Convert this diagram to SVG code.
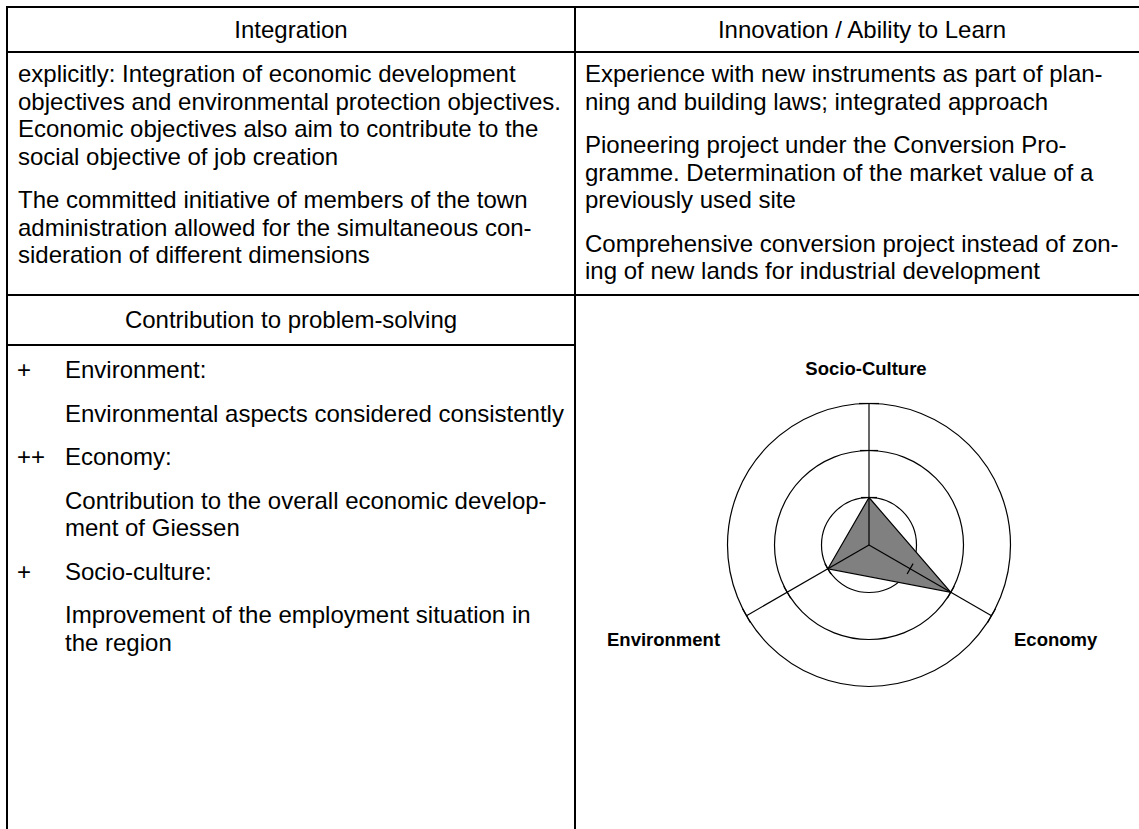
<svg xmlns="http://www.w3.org/2000/svg" width="1139" height="829" viewBox="0 0 1139 829">
<style>
.t{font-family:"Liberation Sans",Arial,sans-serif;font-size:24px;fill:#000}
.c{text-anchor:middle}
.b{font-family:"Liberation Sans",Arial,sans-serif;font-size:18.5px;font-weight:bold;fill:#000}
.grid{stroke:#000;stroke-width:2;fill:none}
.ring{stroke:#000;stroke-width:1.2;fill:none}
.ax{stroke:#000;stroke-width:1.2}
</style>
<rect width="1139" height="829" fill="#fff"/>
<g id="table" class="grid">
<line x1="6" y1="7" x2="1139" y2="7"/>
<line x1="6" y1="52" x2="1139" y2="52"/>
<line x1="6" y1="295" x2="1139" y2="295"/>
<line x1="6" y1="345" x2="575" y2="345"/>
<line x1="7" y1="6" x2="7" y2="829"/>
<line x1="575" y1="6" x2="575" y2="829"/>
</g>
<g id="integration">
<text class="t c" x="291" y="37.5">Integration</text>
<text class="t" x="18">
<tspan x="18" y="82">explicitly: Integration of economic development</tspan>
<tspan x="18" y="109.5">objectives and environmental protection objectives.</tspan>
<tspan x="18" y="137">Economic objectives also aim to contribute to the</tspan>
<tspan x="18" y="164.5">social objective of job creation</tspan>
<tspan x="18" y="208">The committed initiative of members of the town</tspan>
<tspan x="18" y="235.5">administration allowed for the simultaneous con-</tspan>
<tspan x="18" y="263">sideration of different dimensions</tspan>
</text>
</g>
<g id="innovation">
<text class="t c" x="862" y="37.5">Innovation / Ability to Learn</text>
<text class="t" x="585">
<tspan x="585" y="82">Experience with new instruments as part of plan-</tspan>
<tspan x="585" y="109.5">ning and building laws; integrated approach</tspan>
<tspan x="585" y="153">Pioneering project under the Conversion Pro-</tspan>
<tspan x="585" y="180.5">gramme. Determination of the market value of a</tspan>
<tspan x="585" y="208">previously used site</tspan>
<tspan x="585" y="251.5">Comprehensive conversion project instead of zon-</tspan>
<tspan x="585" y="279">ing of new lands for industrial development</tspan>
</text>
</g>
<g id="contribution">
<text class="t c" x="291" y="328">Contribution to problem-solving</text>
<text class="t" x="17" y="378">+</text>
<text class="t" x="65" y="378">Environment:</text>
<text class="t" x="65" y="421.5">Environmental aspects considered consistently</text>
<text class="t" x="17" y="465">++</text>
<text class="t" x="65" y="465">Economy:</text>
<text class="t" x="65" y="508.5">Contribution to the overall economic develop-</text>
<text class="t" x="65" y="536">ment of Giessen</text>
<text class="t" x="17" y="579.5">+</text>
<text class="t" x="65" y="579.5">Socio-culture:</text>
<text class="t" x="65" y="623">Improvement of the employment situation in</text>
<text class="t" x="65" y="650.5">the region</text>
</g>
<g id="radar">
<circle class="ring" cx="869" cy="545" r="47.5"/>
<circle class="ring" cx="869" cy="545" r="94.5"/>
<circle class="ring" cx="869" cy="545" r="141.5"/>
<polygon points="869,497.5 950.8,592.3 827.9,568.8" fill="#808080" stroke="#000" stroke-width="1.2"/>
<g class="ax">
<line x1="869" y1="545" x2="869" y2="403.5"/>
<line x1="869" y1="545" x2="991.5" y2="615.75"/>
<line x1="869" y1="545" x2="746.5" y2="615.75"/>
<line x1="861" y1="497.5" x2="877" y2="497.5"/>
<line x1="860" y1="450.5" x2="878" y2="450.5"/>
<line x1="859" y1="403.5" x2="879" y2="403.5"/>
<line x1="913.1" y1="563.6" x2="907.1" y2="574"/>
<line x1="954.3" y1="586.2" x2="947.3" y2="598.3"/>
<line x1="995.5" y1="608.8" x2="987.5" y2="622.7"/>
<line x1="824.9" y1="563.6" x2="830.9" y2="574"/>
<line x1="783.7" y1="586.2" x2="790.7" y2="598.3"/>
<line x1="742.5" y1="608.8" x2="750.5" y2="622.7"/>
</g>
<text class="b c" x="866" y="375">Socio-Culture</text>
<text class="b" x="607" y="646">Environment</text>
<text class="b" x="1014" y="646">Economy</text>
</g>
</svg>
